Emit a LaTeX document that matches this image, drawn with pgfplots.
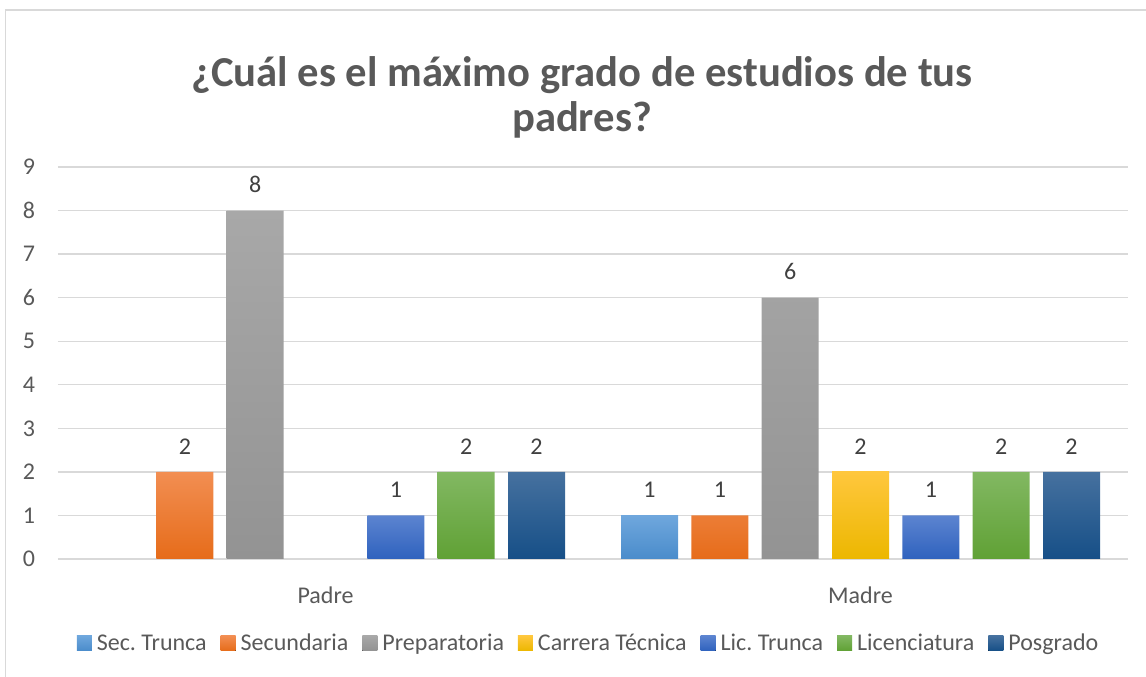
\documentclass[border=0pt]{standalone}
\usepackage{pgfplots}
\pgfplotsset{compat=1.18}
\usepackage{fontspec}
\setmainfont{Carlito}
\frenchspacing
\definecolor{txt}{HTML}{595959}
\definecolor{lbl}{HTML}{404040}
\definecolor{grd}{HTML}{D9D9D9}
\definecolor{aT}{HTML}{6FA7DD}\definecolor{aB}{HTML}{4A8CCB}
\definecolor{bT}{HTML}{F28E52}\definecolor{bB}{HTML}{E66C1A}
\definecolor{cT}{HTML}{A8A8A8}\definecolor{cB}{HTML}{939393}
\definecolor{dT}{HTML}{FFC73D}\definecolor{dB}{HTML}{ECB700}
\definecolor{eT}{HTML}{5C84D0}\definecolor{eB}{HTML}{2F62BE}
\definecolor{fT}{HTML}{82B862}\definecolor{fB}{HTML}{60A135}
\definecolor{gT}{HTML}{46719F}\definecolor{gB}{HTML}{164F87}
\begin{document}
\begin{tikzpicture}
\path[use as bounding box] (-43.5pt,-88.5pt) rectangle (816pt,419.25pt);
\draw[grd, line width=1pt] (-39.4pt,-88.5pt) -- (-39.4pt,411.75pt) -- (816pt,411.75pt);
\node[anchor=base, text=txt, font=\fontsize{32}{38}\selectfont\bfseries] at (393pt,354pt) {¿Cuál es el máximo grado de estudios de tus};
\node[anchor=base, text=txt, font=\fontsize{32}{38}\selectfont\bfseries] at (393pt,320.25pt) {padres?};
\begin{axis}[
  at={(0pt,0pt)}, anchor=south west,
  scale only axis, width=802.5pt, height=294pt,
  xmin=-0.5, xmax=1.5, ymin=0, ymax=9,
  ybar=10pt, bar width=42.75pt,
  xtick={0,1}, xticklabels={Padre,Madre},
  ytick={0,1,...,9},
  ymajorgrids, grid style={grd, line width=1pt},
  axis line style={draw=none}, tick style={draw=none},
  /pgf/number format/assume math mode=true,
  ticklabel style={font=\fontsize{18}{22}\selectfont, text=txt, inner sep=0pt},
  yticklabel style={xshift=-17pt},
  xticklabel style={yshift=-16.5pt},
  nodes near coords,
  every node near coord/.append style={font=\fontsize{18}{22}\selectfont, text=lbl, inner sep=0pt, yshift=13pt, anchor=south},
  legend style={at={(0.4949,-0.2148)}, anchor=center, draw=none, fill=none,
    legend columns=-1, font=\fontsize{18}{22}\selectfont, text=txt,
    nodes={inner sep=0pt, anchor=west, text height=11.5pt, text depth=0pt},
    /tikz/every even column/.append style={column sep=10.5pt}},
  legend image code/.code={\fill[#1] (0pt,-5.6pt) rectangle (11.25pt,5.6pt); \path (15pt,0pt);},
]
\addplot[draw=none, top color=aT, bottom color=aB] coordinates {(1,1)};
\addplot[draw=none, top color=bT, bottom color=bB] coordinates {(0,2) (1,1)};
\addplot[draw=none, top color=cT, bottom color=cB] coordinates {(0,8) (1,6)};
\addplot[draw=none, top color=dT, bottom color=dB] coordinates {(1,2)};
\addplot[draw=none, top color=eT, bottom color=eB] coordinates {(0,1) (1,1)};
\addplot[draw=none, top color=fT, bottom color=fB] coordinates {(0,2) (1,2)};
\addplot[draw=none, top color=gT, bottom color=gB] coordinates {(0,2) (1,2)};
\legend{Sec. Trunca, Secundaria, Preparatoria, Carrera Técnica, Lic. Trunca, Licenciatura, Posgrado}
\end{axis}
\end{tikzpicture}
\end{document}
